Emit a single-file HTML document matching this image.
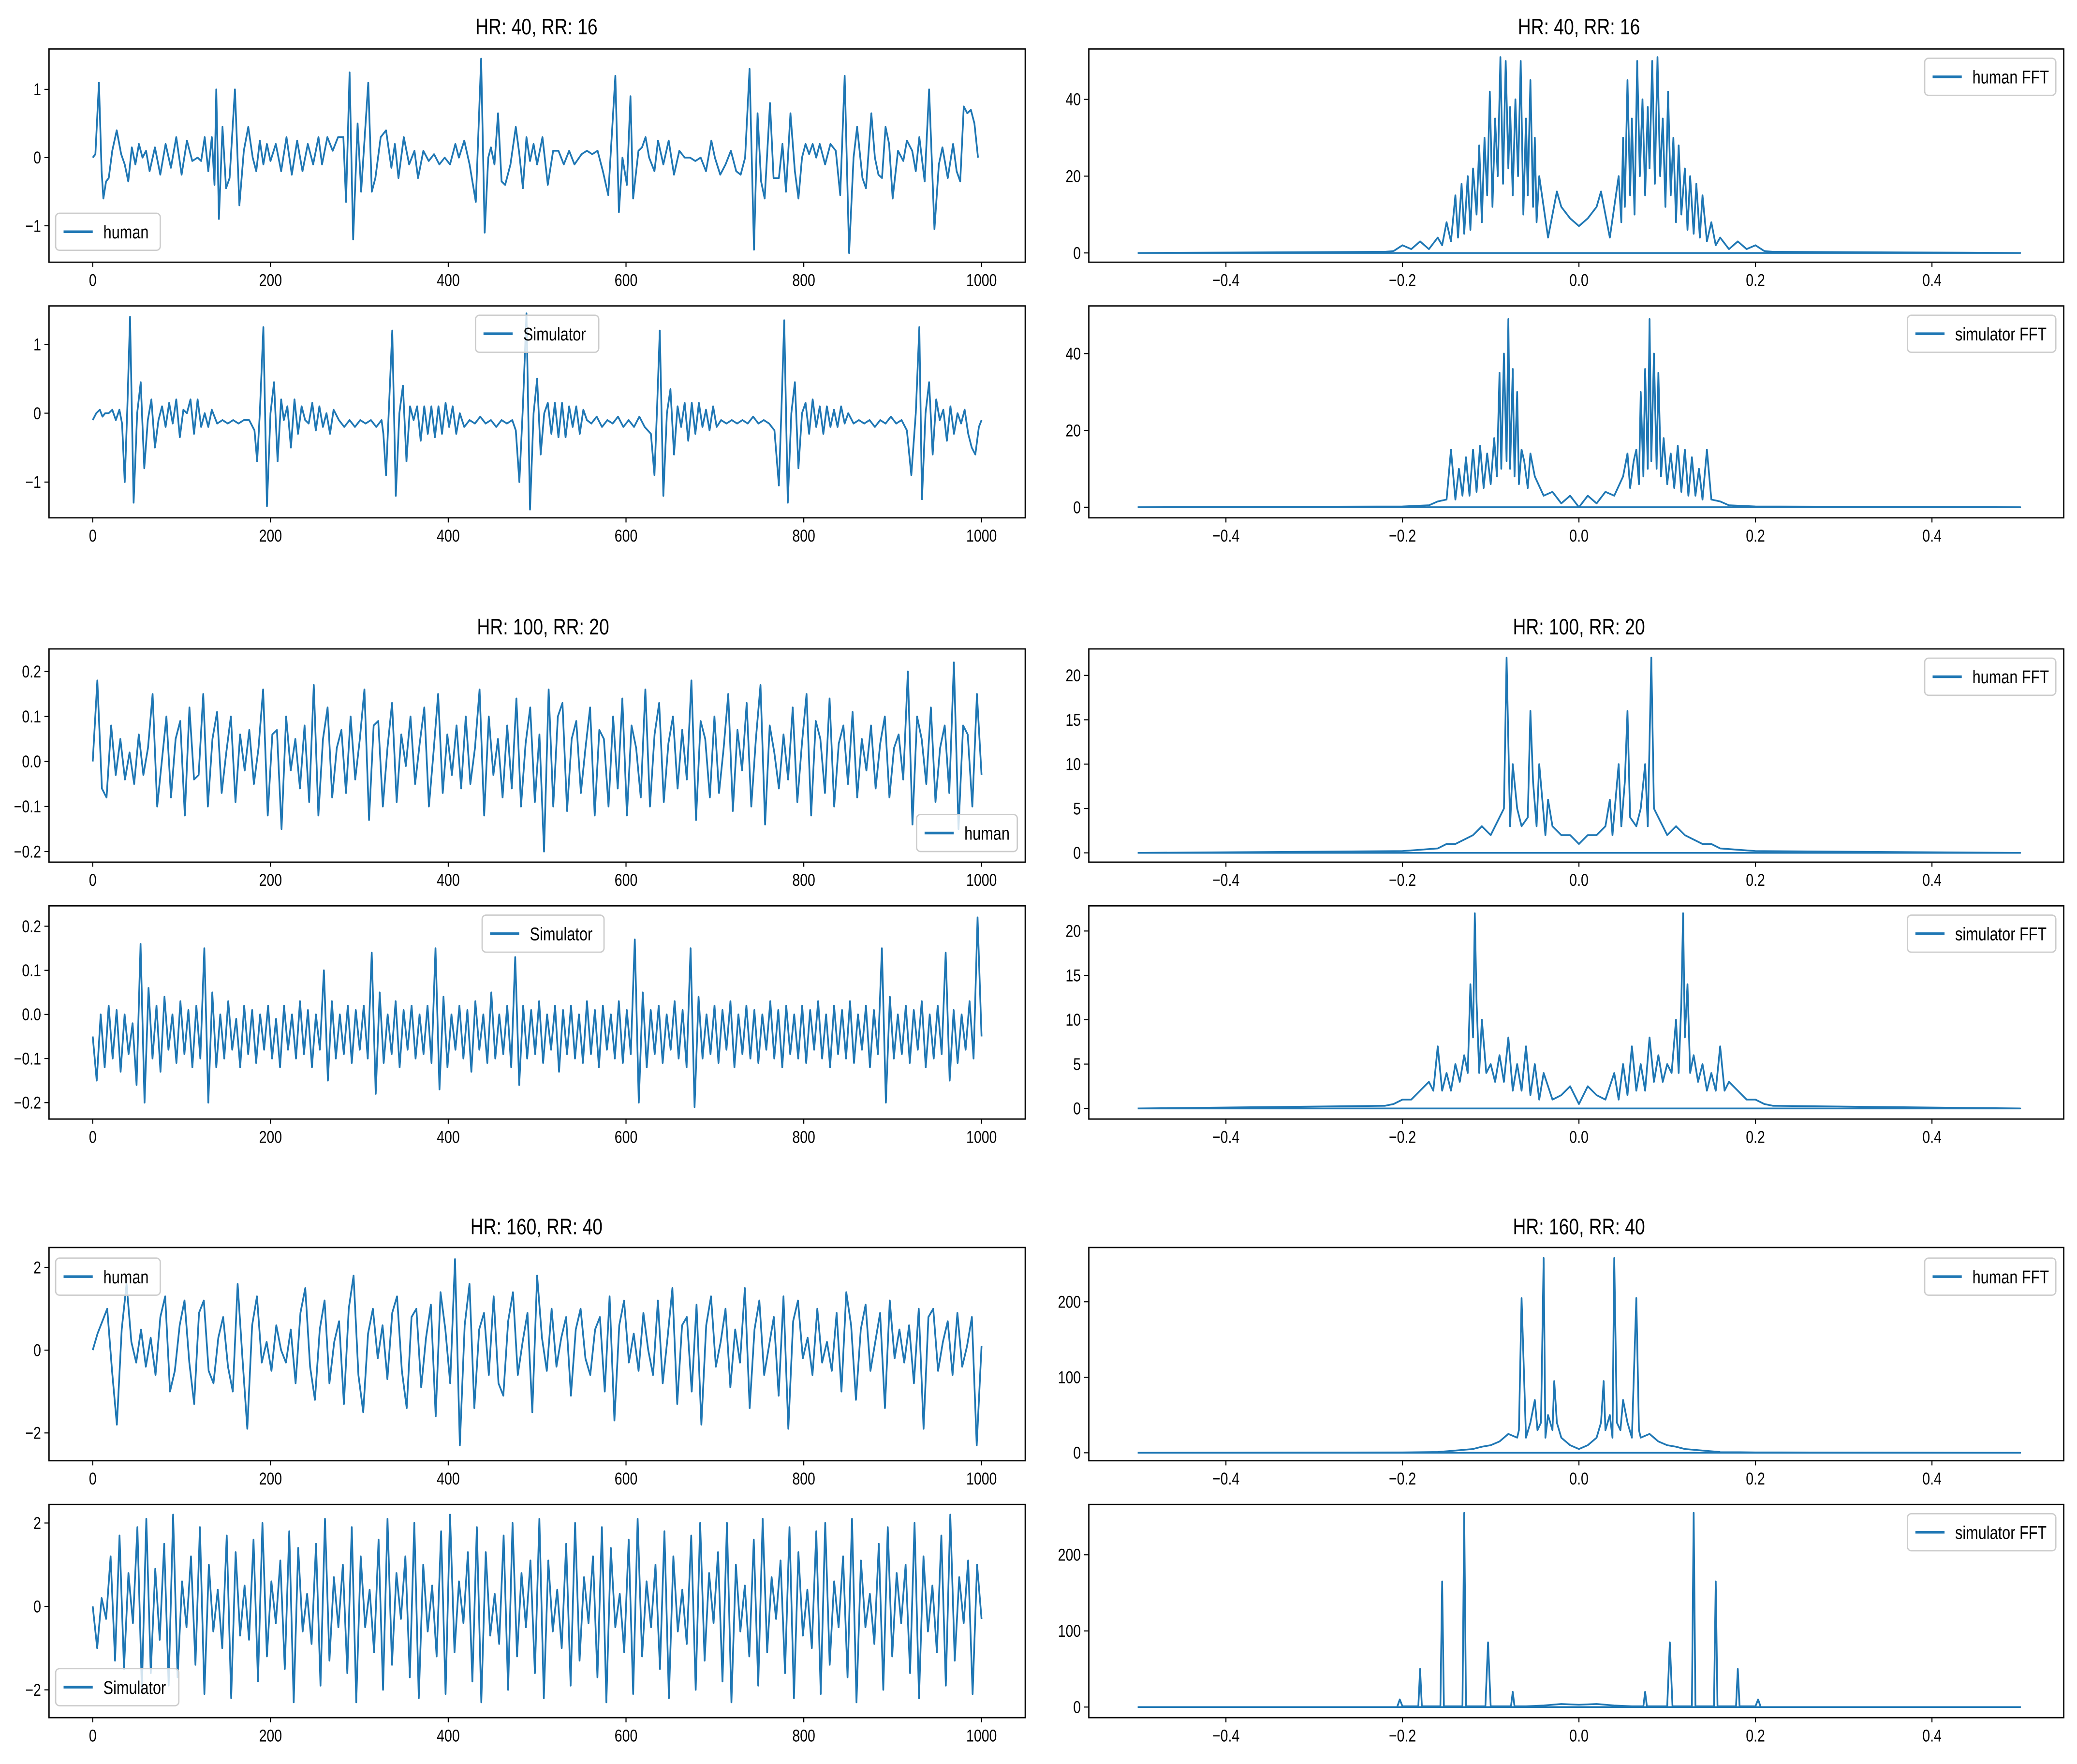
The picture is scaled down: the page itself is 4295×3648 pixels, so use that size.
<!DOCTYPE html>
<html><head><meta charset="utf-8"><style>
html,body{margin:0;padding:0;background:#fff;}
svg{display:block;}
text{font-family:"Liberation Sans",sans-serif;fill:#000;}
</style></head><body>
<svg id="fig" xmlns="http://www.w3.org/2000/svg" width="4295" height="3648" viewBox="0 0 1568 1332" preserveAspectRatio="none"></svg>
<script>
// ---------- DATA ----------
const r1T=[0,3,7,10,12,15,18,22,27,32,36,40,44,48,52,56,60,64,70,76,82,88,94,100,106,112,118,122,126,130,134,137,139,142,146,150,154,160,165,170,175,180,184,188,192,196,200,206,212,218,224,230,236,242,248,254,258,264,270,276,282,285,289,293,298,302,310,314,318,324,330,336,340,344,350,356,362,366,372,378,384,390,396,402,408,412,418,424,431,437,441,445,448,452,456,460,464,470,476,480,484,488,492,496,500,506,512,518,524,530,536,542,550,556,562,568,574,580,588,592,596,601,605,608,614,618,622,626,632,636,642,648,654,660,666,672,678,684,690,696,700,706,712,718,724,729,734,739,744,748,752,756,762,766,772,776,780,785,790,794,798,802,806,810,814,818,824,830,836,841,846,851,856,860,866,870,876,880,884,888,892,896,900,906,912,916,922,926,930,936,941,947,952,956,962,968,972,976,980,984,988,992,996,1000];
const r1V=[0,0.05,1.1,-0.2,-0.6,-0.35,-0.3,0.1,0.4,0.05,-0.1,-0.35,0.15,-0.1,0.2,0.0,0.1,-0.2,0.15,-0.25,0.2,-0.15,0.3,-0.25,0.25,-0.05,0.0,-0.05,0.3,-0.2,0.3,-0.4,1.0,-0.9,0.45,-0.45,-0.3,1.0,-0.7,0.1,0.45,0.0,-0.2,0.25,-0.1,0.2,-0.05,0.2,-0.2,0.3,-0.25,0.25,-0.2,0.2,-0.1,0.3,-0.1,0.3,0.1,0.3,0.3,-0.65,1.25,-1.2,0.5,-0.5,1.1,-0.5,-0.3,0.3,0.4,-0.15,0.2,-0.3,0.3,-0.1,0.1,-0.3,0.1,-0.05,0.05,-0.1,0.0,-0.1,0.2,0.0,0.25,-0.1,-0.65,1.45,-1.1,0.0,0.15,-0.1,0.65,-0.35,-0.4,-0.1,0.45,0.05,-0.45,0.3,-0.05,0.2,-0.1,0.3,-0.4,0.1,0.1,-0.1,0.1,-0.1,0.05,0.1,0.05,0.1,-0.2,-0.55,1.2,-0.8,0.0,-0.4,0.9,-0.6,0.1,0.15,0.3,0.0,-0.2,0.25,-0.1,0.25,-0.25,0.1,0.0,0.0,-0.05,0.0,-0.2,0.25,0.0,-0.25,-0.1,0.1,-0.2,-0.25,0.0,1.3,-1.35,0.65,-0.35,-0.6,0.8,-0.3,-0.3,0.2,-0.5,0.65,-0.2,-0.6,0.0,0.2,0.05,0.2,0.0,0.2,-0.1,0.2,0.1,-0.55,1.2,-1.4,0.0,0.45,-0.3,-0.45,0.65,0.0,-0.25,-0.3,0.45,0.2,-0.6,0.1,-0.05,0.25,0.1,-0.2,0.3,-0.35,1.0,-1.05,-0.1,0.15,-0.3,0.2,-0.2,-0.35,0.75,0.65,0.7,0.5,0.0];

const r2T=[0,4,8,11,14,18,22,26,30,33,36,39,42,46,50,54,58,62,66,70,74,78,82,86,90,94,98,102,106,110,114,118,122,126,130,134,140,146,152,158,164,170,176,182,185,188,192,196,200,204,208,212,215,219,223,227,231,235,239,243,247,251,255,259,263,267,271,277,283,289,295,301,307,313,319,325,327,330,333,337,341,345,349,353,357,361,365,369,373,377,381,385,389,393,397,401,405,409,413,418,424,430,436,442,448,454,460,466,472,476,480,484,488,492,496,500,504,508,512,516,520,524,528,532,536,540,544,548,552,556,561,567,573,579,585,591,597,603,609,615,621,628,632,635,638,642,646,650,654,658,662,666,670,674,678,682,686,690,694,698,702,707,713,719,725,731,737,743,749,755,761,767,772,775,778,782,786,790,794,798,802,806,810,814,818,822,826,830,834,838,842,846,850,856,862,868,874,880,886,892,898,904,910,916,921,926,930,933,937,941,945,949,953,957,961,965,969,973,977,981,985,989,993,997,1000];
const r2V=[-0.1,0.0,0.05,-0.05,0.0,0.0,0.05,-0.1,0.05,-0.15,-1.0,0.1,1.4,-1.3,0.0,0.45,-0.8,-0.1,0.2,-0.5,-0.1,0.1,-0.2,0.15,-0.15,0.2,-0.35,0.05,0.0,0.2,-0.3,0.2,-0.2,0.0,-0.2,0.05,-0.15,-0.1,-0.15,-0.1,-0.15,-0.1,-0.1,-0.25,-0.7,0.0,1.25,-1.35,0.0,0.45,-0.7,0.2,-0.1,0.1,-0.5,0.2,-0.3,0.1,-0.1,-0.15,0.15,-0.25,0.1,-0.2,0.0,-0.3,0.05,-0.1,-0.2,-0.1,-0.2,-0.1,-0.15,-0.1,-0.2,-0.1,-0.3,-0.9,0.0,1.2,-1.2,0.0,0.4,-0.7,0.1,-0.1,0.1,-0.4,0.1,-0.3,0.1,-0.35,0.1,-0.3,0.15,-0.2,0.1,-0.3,0.0,-0.2,-0.1,-0.15,-0.05,-0.15,-0.1,-0.2,-0.1,-0.15,-0.1,-0.25,-1.0,0.1,1.45,-1.4,0.0,0.5,-0.6,0.0,0.15,-0.3,0.15,-0.35,0.15,-0.35,0.1,-0.2,0.1,-0.3,0.05,-0.1,-0.15,-0.05,-0.2,-0.1,-0.15,-0.05,-0.2,-0.1,-0.2,-0.05,-0.2,-0.3,-0.9,0.1,1.2,-1.2,0.0,0.35,-0.6,0.1,-0.2,0.15,-0.4,0.15,-0.3,0.15,-0.2,0.05,-0.25,0.1,-0.2,-0.1,-0.15,-0.1,-0.15,-0.1,-0.15,-0.05,-0.15,-0.1,-0.15,-0.25,-1.05,0.1,1.35,-1.3,0.0,0.45,-0.8,0.0,0.15,-0.3,0.2,-0.2,0.1,-0.3,0.1,-0.2,0.05,-0.2,0.1,-0.15,0.0,-0.15,-0.1,-0.15,-0.1,-0.2,-0.1,-0.15,-0.05,-0.15,-0.1,-0.25,-0.9,0.0,1.25,-1.25,0.0,0.45,-0.6,0.2,-0.1,0.05,-0.4,0.1,-0.3,0.0,-0.15,0.05,-0.3,-0.5,-0.6,-0.2,-0.1];

const r3V=[0,0.18,-0.06,-0.08,0.08,-0.03,0.05,-0.04,0.02,-0.05,0.06,-0.03,0.03,0.15,-0.1,0.0,0.1,-0.08,0.05,0.09,-0.12,0.12,-0.04,-0.03,0.15,-0.1,0.05,0.11,-0.07,0.02,0.1,-0.09,0.06,-0.02,0.07,-0.05,0.03,0.16,-0.12,0.06,0.07,-0.15,0.1,-0.02,0.05,-0.06,0.08,-0.09,0.17,-0.12,0.05,0.12,-0.08,0.03,0.07,-0.07,0.1,-0.04,0.05,0.16,-0.13,0.08,0.09,-0.1,0.03,0.13,-0.09,0.06,-0.01,0.1,-0.05,0.04,0.12,-0.1,0.02,0.15,-0.07,0.06,-0.03,0.08,-0.06,0.1,-0.05,0.03,0.16,-0.12,0.1,-0.03,0.05,-0.08,0.08,-0.06,0.14,-0.1,0.04,0.12,-0.09,0.06,-0.2,0.16,-0.1,0.1,0.13,-0.11,0.05,0.09,-0.07,0.03,0.12,-0.12,0.07,0.05,-0.1,0.1,-0.06,0.14,-0.12,0.08,0.03,-0.08,0.16,-0.1,0.06,0.13,-0.09,0.04,0.1,-0.06,0.07,-0.04,0.18,-0.13,0.09,0.05,-0.08,0.1,-0.07,0.03,0.15,-0.11,0.07,-0.02,0.13,-0.1,0.05,0.17,-0.14,0.08,0.02,-0.06,0.06,-0.04,0.12,-0.09,0.04,0.15,-0.12,0.09,0.05,-0.07,0.14,-0.1,0.04,0.08,-0.05,0.11,-0.08,0.05,-0.02,0.08,-0.06,0.04,0.1,-0.08,0.03,0.06,-0.04,0.2,-0.14,0.1,0.05,-0.05,0.12,-0.09,0.03,0.08,-0.07,0.22,-0.15,0.08,0.06,-0.1,0.15,-0.03];

const r4V=[-0.05,-0.15,0.0,-0.12,0.02,-0.1,0.01,-0.13,0.0,-0.09,-0.02,-0.16,0.16,-0.2,0.06,-0.1,0.02,-0.13,0.04,-0.08,0.0,-0.11,0.03,-0.09,0.01,-0.12,0.02,-0.1,0.15,-0.2,0.05,-0.12,0.0,-0.1,0.03,-0.08,-0.01,-0.12,0.02,-0.09,0.01,-0.11,0.0,-0.08,0.02,-0.1,-0.01,-0.12,0.02,-0.08,0.0,-0.1,0.03,-0.09,0.01,-0.12,0.0,-0.08,0.1,-0.15,0.03,-0.1,0.0,-0.09,0.02,-0.11,0.01,-0.08,0.02,-0.1,0.14,-0.18,0.05,-0.11,0.0,-0.09,0.03,-0.12,0.01,-0.08,0.02,-0.1,0.0,-0.09,0.02,-0.11,0.15,-0.17,0.04,-0.12,0.0,-0.08,0.02,-0.1,0.01,-0.13,0.03,-0.08,0.0,-0.11,0.05,-0.1,0.0,-0.09,0.02,-0.12,0.13,-0.16,0.02,-0.1,0.01,-0.09,0.03,-0.11,0.0,-0.08,0.02,-0.13,0.01,-0.09,0.02,-0.1,0.0,-0.11,0.03,-0.09,0.01,-0.12,0.02,-0.08,0.0,-0.1,0.03,-0.11,0.01,-0.09,0.17,-0.2,0.05,-0.12,0.01,-0.09,0.02,-0.11,0.0,-0.08,0.03,-0.1,0.01,-0.12,0.15,-0.21,0.04,-0.1,0.0,-0.09,0.02,-0.11,0.01,-0.08,0.03,-0.12,0.0,-0.09,0.02,-0.1,0.01,-0.11,0.0,-0.08,0.03,-0.1,0.01,-0.12,0.02,-0.09,0.0,-0.1,0.02,-0.11,0.01,-0.08,0.03,-0.1,0.0,-0.12,0.02,-0.09,0.01,-0.1,0.03,-0.11,0.0,-0.08,0.02,-0.12,0.01,-0.09,0.15,-0.2,0.04,-0.1,0.0,-0.09,0.02,-0.11,0.01,-0.08,0.03,-0.12,0.0,-0.1,0.02,-0.09,0.14,-0.15,0.01,-0.11,0.0,-0.08,0.03,-0.1,0.22,-0.05];

const r5V=[0,0.4,0.7,1.0,-0.5,-1.8,0.5,1.6,0.2,-0.3,0.5,-0.4,0.3,-0.6,0.8,1.3,-1.0,-0.5,0.6,1.2,-0.3,-1.3,0.9,1.2,-0.5,-0.8,0.3,0.8,-0.4,-1.0,1.6,-0.2,-1.9,0.6,1.3,-0.3,0.2,-0.5,0.6,0.0,-0.3,0.5,-0.8,0.9,1.5,-0.4,-1.2,0.5,1.2,-0.8,0.2,0.7,-1.3,1.0,1.8,-0.6,-1.5,0.4,1.0,-0.2,0.6,-0.7,0.9,1.3,-0.5,-1.4,0.8,1.0,-0.9,0.3,1.1,-1.6,1.4,0.5,-0.8,2.2,-2.3,0.6,1.6,-1.4,0.5,0.9,-0.6,1.3,-0.8,-1.1,0.7,1.4,-0.6,0.2,0.9,-1.5,1.8,0.3,-0.5,1.0,-0.4,0.3,0.8,-1.1,0.5,1.0,-0.2,-0.6,0.5,0.8,-1.0,1.3,-1.7,0.6,1.2,-0.3,0.4,-0.5,0.9,0.0,-0.6,1.2,-0.8,0.3,1.5,-1.3,0.6,0.8,-1.0,1.1,-1.8,0.6,1.3,-0.4,0.2,1.0,-0.9,0.5,-0.3,1.5,-1.4,0.5,1.2,-0.6,0.1,0.8,-1.1,1.3,-1.9,0.7,1.2,-0.2,0.3,-0.6,1.0,-0.3,0.2,-0.5,0.9,-1.0,1.4,0.6,-1.2,0.5,1.1,-0.5,0.2,0.9,-1.4,1.2,-0.2,0.5,-0.3,0.6,-0.8,1.0,-1.9,0.8,1.0,-0.5,0.2,0.7,-0.6,0.9,-0.4,0.1,0.8,-2.3,0.1];

const r6V=[0,-1.0,0.2,-0.3,1.2,-1.3,1.7,-1.5,0.8,-0.4,1.9,-2.0,2.1,-1.6,0.9,-0.8,1.5,-1.9,2.2,-1.7,0.6,-0.5,1.2,-1.4,1.9,-2.1,1.0,-0.6,0.4,-1.0,1.7,-2.2,1.3,-0.7,0.5,-0.8,1.6,-1.8,2.0,-1.2,0.6,-0.4,1.1,-1.5,1.8,-2.3,1.4,-0.6,0.3,-0.9,1.5,-1.9,2.1,-1.3,0.7,-0.5,1.0,-1.6,1.9,-2.3,1.2,-0.5,0.4,-1.1,1.6,-2.0,2.1,-1.4,0.8,-0.3,1.2,-1.7,2.0,-2.2,1.0,-0.6,0.5,-1.2,1.8,-2.1,2.2,-1.1,0.6,-0.4,1.3,-1.8,1.9,-2.3,1.3,-0.7,0.3,-0.9,1.7,-2.0,2.0,-1.2,0.8,-0.5,1.1,-1.6,2.1,-2.2,1.1,-0.6,0.4,-1.0,1.5,-1.9,2.0,-1.3,0.7,-0.4,1.2,-1.7,1.9,-2.3,1.4,-0.5,0.3,-1.1,1.6,-2.1,2.1,-1.2,0.6,-0.5,1.0,-1.5,1.8,-2.2,1.2,-0.6,0.4,-0.9,1.7,-2.0,2.0,-1.3,0.8,-0.4,1.3,-1.8,2.0,-2.3,1.0,-0.6,0.5,-1.2,1.6,-1.9,2.1,-1.1,0.7,-0.3,1.1,-1.6,1.9,-2.2,1.3,-0.7,0.4,-1.0,1.8,-2.1,2.0,-1.4,0.6,-0.5,1.2,-1.7,2.1,-2.3,1.1,-0.5,0.3,-0.9,1.5,-2.0,1.9,-1.2,0.8,-0.4,1.0,-1.6,2.0,-2.2,1.2,-0.6,0.5,-1.1,1.7,-1.9,2.2,-1.3,0.7,-0.4,1.1,-2.1,1.0,-0.3];

// FFT (positive half; spectrum of real signal is symmetric)
const f1F=[0,0.01,0.02,0.025,0.03,0.035,0.04,0.045,0.048,0.05,0.052,0.055,0.058,0.06,0.063,0.066,0.069,0.072,0.075,0.078,0.08,0.083,0.086,0.089,0.092,0.095,0.098,0.101,0.104,0.107,0.11,0.113,0.116,0.12,0.123,0.126,0.13,0.133,0.137,0.14,0.145,0.15,0.155,0.16,0.17,0.18,0.19,0.2,0.21,0.22,0.5];
const f1V=[7,9,12,16,10,4,12,20,8,30,12,45,15,35,10,50,20,40,15,38,22,50,18,51,20,35,12,42,15,30,8,28,10,22,6,20,5,18,4,15,3,8,2,4,1,3,1,2,0.5,0.3,0];
const f2F=[0,0.01,0.02,0.03,0.04,0.05,0.055,0.058,0.062,0.065,0.068,0.07,0.073,0.075,0.078,0.08,0.082,0.085,0.088,0.09,0.093,0.096,0.1,0.104,0.108,0.112,0.116,0.12,0.124,0.128,0.132,0.136,0.14,0.145,0.15,0.16,0.17,0.2,0.5];
const f2V=[0,3,1,4,3,8,14,5,12,15,6,30,8,36,10,49,12,40,10,35,8,18,6,14,5,16,4,15,3,13,3,10,2,15,2,1.5,0.5,0.2,0];
const f3F=[0,0.01,0.02,0.03,0.035,0.038,0.045,0.048,0.052,0.055,0.058,0.065,0.07,0.075,0.078,0.082,0.085,0.09,0.095,0.1,0.11,0.12,0.13,0.14,0.15,0.16,0.2,0.5];
const f3V=[1,2,2,3,6,2,10,3,8,16,4,3,5,10,3,22,5,4,3,2,3,2,1.5,1,1,0.5,0.2,0];
const f4F=[0,0.01,0.02,0.03,0.04,0.045,0.05,0.055,0.06,0.065,0.07,0.075,0.08,0.085,0.09,0.095,0.1,0.105,0.11,0.113,0.116,0.118,0.12,0.123,0.126,0.13,0.135,0.14,0.145,0.15,0.155,0.16,0.165,0.17,0.18,0.19,0.2,0.21,0.22,0.5];
const f4V=[0.5,2.5,1.5,1,4,1,5,1.5,7,2,5,2,8,3,6,3,5,4,10,4,12,22,8,14,4,6,3,5,2,4,2,7,2,3,2,1,1,0.5,0.3,0];
const f5F=[0,0.01,0.02,0.025,0.028,0.03,0.035,0.038,0.04,0.043,0.047,0.05,0.055,0.06,0.065,0.068,0.07,0.08,0.09,0.1,0.11,0.12,0.14,0.16,0.2,0.5];
const f5V=[5,10,20,40,95,30,50,20,258,40,30,70,40,20,205,30,20,25,15,10,8,5,3,1,0.5,0];
const f6F=[0,0.02,0.04,0.06,0.073,0.075,0.077,0.1,0.103,0.106,0.128,0.13,0.132,0.153,0.155,0.157,0.178,0.18,0.182,0.2,0.203,0.206,0.5];
const f6V=[3,4,2,1,1,20,1,1,85,1,1,255,1,1,165,1,1,50,1,1,10,0,0];

// ---------- DRAWING ----------
const NS="http://www.w3.org/2000/svg";
const svg=document.getElementById('fig');
const BLUE="#1f77b4";
function mk(tag,attrs,parent){const e=document.createElementNS(NS,tag);for(const k in attrs)e.setAttribute(k,attrs[k]);(parent||svg).appendChild(e);return e;}
function txt(x,y,s,size,anchor,parent){const t=mk('text',{transform:`translate(${x},${y}) scale(0.8,1)`,'font-size':size,'text-anchor':anchor},parent);t.textContent=s;return t;}

const LX=[37,774], RX=[822,1558];
function xL(t){return 70+t*0.671;}
function xR(f){return 1192+f*666.25;}

function panel(name,box,xmap,xticks,xlabels,y0,k,yticks,ylabels){
  const g=mk('g',{});
  
  
  const [x1,x2,y1,y2]=box;
  const ymap=v=>y0-v*k;
  const frame=mk('rect',{x:x1,y:y1,width:x2-x1,height:y2-y1,fill:'none',stroke:'#000','stroke-width':1},g);
  
  
  xticks.forEach((t,i)=>{const x=xmap(t);mk('line',{x1:x,x2:x,y1:y2,y2:y2+3.5,stroke:'#000','stroke-width':0.8},g);
    const l=txt(x,y2+18,xlabels[i],13,'middle',g);
    
    });
  yticks.forEach((v,i)=>{const y=ymap(v);mk('line',{x1:x1-3.5,x2:x1,y1:y,y2:y,stroke:'#000','stroke-width':0.8},g);
    const l=txt(x1-6,y+4.5,ylabels[i],13,'end',g);
    
    });
  return {g,ymap,xmap};
}
function series(p,xs,ys,name){
  let d='';for(let i=0;i<xs.length;i++){d+=(i?'L':'M')+p.xmap(xs[i]).toFixed(2)+','+p.ymap(ys[i]).toFixed(2);}
  const path=mk('path',{d,fill:'none',stroke:BLUE,'stroke-width':1.3,'stroke-linejoin':'round'},p.g);
  
  
}
function uniformX(arr){return arr.map((_,i)=>i*1000/(arr.length-1));}
function mirror(F,V){const xs=[-0.5],ys=[0];
  for(let i=F.length-1;i>=0;i--){if(F[i]<0.5){xs.push(-F[i]);ys.push(V[i]);}}
  for(let i=1;i<F.length;i++){xs.push(F[i]);ys.push(V[i]);}
  // return line along zero (wrap-around of fft ordering)
  xs.push(-0.5);ys.push(0);
  return [xs,ys];}
function legend(p,x,y,w,label,name){
  const g=mk('g',{},p.g);
  
  
  mk('rect',{x,y,width:w,height:28,rx:3,fill:'#fff','fill-opacity':0.8,stroke:'#ccc','stroke-width':1},g);
  mk('line',{x1:x+6,x2:x+28,y1:y+14,y2:y+14,stroke:BLUE,'stroke-width':2},g);
  txt(x+36,y+19,label,14,'start',g);
}
function title(x,y,s){const t=txt(x,y,s,17,'middle');}

const LT=[0,200,400,600,800,1000], LTL=['0','200','400','600','800','1000'];
const RT=[-0.4,-0.2,0,0.2,0.4], RTL=['−0.4','−0.2','0.0','0.2','0.4'];

title(405,26,'HR: 40, RR: 16'); title(1192,26,'HR: 40, RR: 16');
title(410,479,'HR: 100, RR: 20'); title(1192,479,'HR: 100, RR: 20');
title(405,932,'HR: 160, RR: 40'); title(1192,932,'HR: 160, RR: 40');

// Row 1
let p=panel('human-40-panel',[LX[0],LX[1],37,198],xL,LT,LTL,119,51.5,[-1,0,1],['−1','0','1']);
series(p,r1T,r1V,'human-signal-line'); legend(p,42,161,79,'human','legend-human');
p=panel('sim-40-panel',[LX[0],LX[1],231,391],xL,LT,LTL,312,52,[-1,0,1],['−1','0','1']);
series(p,r2T,r2V,'simulator-signal-line'); legend(p,359,238,93,'Simulator','legend-simulator');
p=panel('human-fft-40-panel',[RX[0],RX[1],37,198],xR,RT,RTL,191,2.9,[0,20,40],['0','20','40']);
let m=mirror(f1F,f1V);series(p,m[0],m[1],'human-fft-line');legend(p,1453,44,99,'human FFT','legend-human-fft');
p=panel('sim-fft-40-panel',[RX[0],RX[1],231,391],xR,RT,RTL,383,2.9,[0,20,40],['0','20','40']);
m=mirror(f2F,f2V);series(p,m[0],m[1],'simulator-fft-line');legend(p,1440,238,112,'simulator FFT','legend-simulator-fft');

// Row 2
p=panel('human-100-panel',[LX[0],LX[1],490,651],xL,LT,LTL,575,340,[-0.2,-0.1,0,0.1,0.2],['−0.2','−0.1','0.0','0.1','0.2']);
series(p,uniformX(r3V),r3V,'human-signal-line'); legend(p,692,615,76,'human','legend-human');
p=panel('sim-100-panel',[LX[0],LX[1],684,845],xL,LT,LTL,766,333,[-0.2,-0.1,0,0.1,0.2],['−0.2','−0.1','0.0','0.1','0.2']);
series(p,uniformX(r4V),r4V,'simulator-signal-line'); legend(p,364,691,92,'Simulator','legend-simulator');
p=panel('human-fft-100-panel',[RX[0],RX[1],490,651],xR,RT,RTL,644,6.7,[0,5,10,15,20],['0','5','10','15','20']);
m=mirror(f3F,f3V);series(p,m[0],m[1],'human-fft-line');legend(p,1453,497,99,'human FFT','legend-human-fft');
p=panel('sim-fft-100-panel',[RX[0],RX[1],684,845],xR,RT,RTL,837,6.7,[0,5,10,15,20],['0','5','10','15','20']);
m=mirror(f4F,f4V);series(p,m[0],m[1],'simulator-fft-line');legend(p,1440,691,112,'simulator FFT','legend-simulator-fft');

// Row 3
p=panel('human-160-panel',[LX[0],LX[1],942,1103],xL,LT,LTL,1019.5,31.25,[-2,0,2],['−2','0','2']);
series(p,uniformX(r5V),r5V,'human-signal-line'); legend(p,42,950,79,'human','legend-human');
p=panel('sim-160-panel',[LX[0],LX[1],1136,1297],xL,LT,LTL,1213,31.5,[-2,0,2],['−2','0','2']);
series(p,uniformX(r6V),r6V,'simulator-signal-line'); legend(p,42,1260,93,'Simulator','legend-simulator');
p=panel('human-fft-160-panel',[RX[0],RX[1],942,1103],xR,RT,RTL,1097,0.57,[0,100,200],['0','100','200']);
m=mirror(f5F,f5V);series(p,m[0],m[1],'human-fft-line');legend(p,1453,950,99,'human FFT','legend-human-fft');
p=panel('sim-fft-160-panel',[RX[0],RX[1],1136,1297],xR,RT,RTL,1289,0.575,[0,100,200],['0','100','200']);
m=mirror(f6F,f6V);series(p,m[0],m[1],'simulator-fft-line');legend(p,1440,1143,112,'simulator FFT','legend-simulator-fft');
</script>
</body></html>
